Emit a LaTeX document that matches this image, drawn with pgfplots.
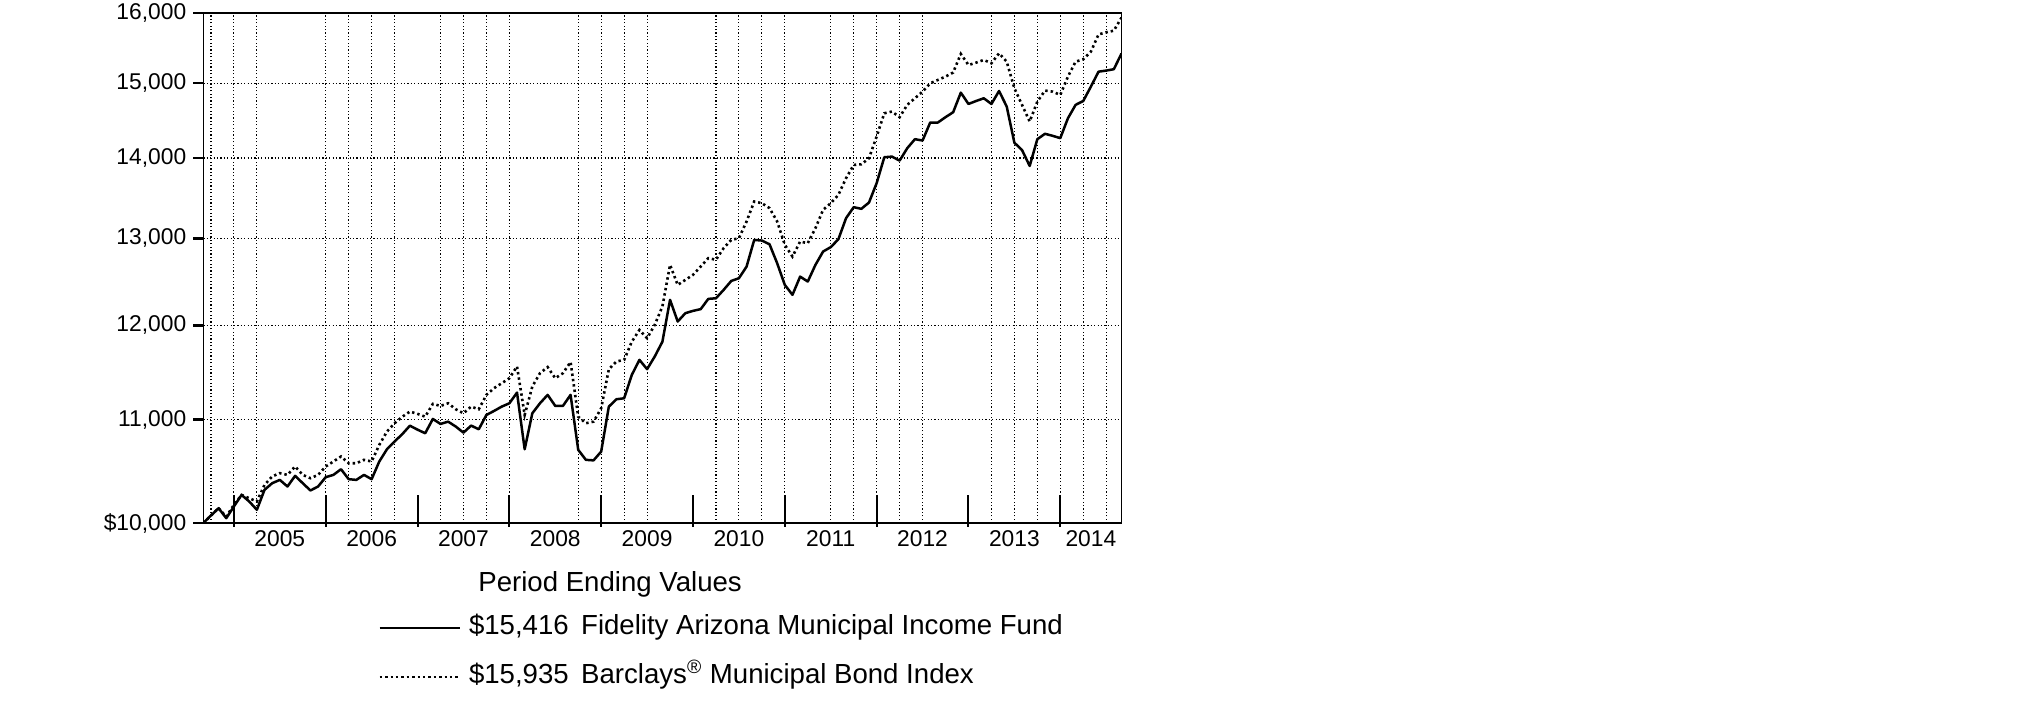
\documentclass[border=0pt]{standalone}
\usepackage{pgfplots}
\usepackage{pgfplotstable}
\pgfplotsset{compat=1.18}
\usepackage{fontspec}
\setmainfont{Liberation Sans}

\pgfplotstableread{
m fund index
0 10000 10000
1 10071 10071
2 10139 10139
3 10046 10060
4 10155 10170
5 10264 10264
6 10202 10233
7 10124 10202
8 10312 10359
9 10375 10440
10 10407 10472
11 10344 10455
12 10446 10536
13 10375 10455
14 10306 10423
15 10344 10455
16 10433 10536
17 10455 10585
18 10510 10634
19 10414 10568
20 10407 10568
21 10455 10601
22 10414 10585
23 10585 10748
24 10705 10881
25 10782 10965
26 10855 11030
27 10940 11083
28 10900 11060
29 10864 11031
30 11008 11162
31 10958 11141
32 10981 11168
33 10931 11107
34 10870 11066
35 10941 11134
36 10904 11107
37 11049 11255
38 11090 11325
39 11134 11376
40 11168 11429
41 11279 11554
42 10705 11049
43 11066 11342
44 11168 11482
45 11255 11547
46 11141 11429
47 11141 11482
48 11255 11601
49 10699 11031
50 10601 10965
51 10596 10981
52 10682 11117
53 11134 11525
54 11210 11607
55 11220 11624
56 11464 11820
57 11624 11949
58 11525 11858
59 11660 12005
60 11820 12210
61 12285 12687
62 12042 12455
63 12135 12513
64 12161 12571
65 12180 12667
66 12296 12766
67 12303 12747
68 12398 12884
69 12501 12983
70 12532 13003
71 12667 13205
72 12983 13450
73 12975 13429
74 12931 13368
75 12706 13205
76 12455 12923
77 12342 12785
78 12551 12963
79 12494 12943
80 12687 13124
81 12844 13347
82 12896 13429
83 12991 13533
84 13245 13742
85 13380 13912
86 13360 13920
87 13438 13997
88 13680 14281
89 14010 14590
90 14019 14613
91 13967 14537
92 14127 14703
93 14245 14793
94 14228 14884
95 14466 14999
96 14466 15045
97 14537 15092
98 14604 15148
99 14870 15410
100 14716 15254
101 14756 15287
102 14793 15325
103 14716 15278
104 14893 15419
105 14680 15300
106 14199 14930
107 14104 14703
108 13899 14479
109 14245 14747
110 14316 14898
111 14290 14884
112 14259 14839
113 14523 15092
114 14703 15300
115 14756 15334
116 14953 15443
117 15160 15690
118 15175 15720
119 15195 15745
120 15416 15935
}\data

\begin{document}
\begin{tikzpicture}[x=1pt,y=1pt]
\path[use as bounding box] (0,0) rectangle (1012.5,358.5);
\begin{axis}[
  at={(101.65pt,96.85pt)}, anchor=south west,
  scale only axis, width=459.1pt, height=255pt,
  xmin=0, xmax=120,
  ymode=log, ymin=10000, ymax=16000,
  ytick={10000,11000,12000,13000,14000,15000,16000},
  yticklabels={{\$10,000},{11,000},{12,000},{13,000},{14,000},{15,000},{16,000}},
  yminorticks=false,
  xtick={10,22,34,46,58,70,82,94,106,116},
  xticklabels={2005,2006,2007,2008,2009,2010,2011,2012,2013,2014},
  extra x ticks={1,4,7,16,19,22,25,31,34,37,40,49,52,55,58,67,70,73,76,82,85,88,91,94,103,106,109,112,115,118},
  extra x tick labels={},
  extra x tick style={xmajorgrids=true},
  xmajorgrids=false,
  ymajorgrids=true,
  grid style={black, line width=0.55pt, dash pattern=on 0.6pt off 1.1pt},
  major x tick style={draw=none},
  minor xtick={4,16,28,40,52,64,76,88,100,112},
  minor tick length=15.8pt,
  minor x tick style={draw=black, line width=1pt, yshift=-1.7pt},
  xtick align=inside,
  ytick align=outside,
  major tick length=5pt,
  major y tick style={line width=1.3pt, black},
  xtick pos=bottom, ytick pos=left,
  axis line style={line width=0.7pt},
  tick label style={font=\fontsize{11.4}{13.5}\selectfont},
  /pgf/number format/assume math mode=true,
  legend style={draw=none, fill=none, at={(0.19026,-0.179)}, anchor=north west,
    font=\fontsize{13.8}{16}\selectfont, inner sep=0pt, row sep=11.5pt,
    nodes={inner sep=0pt, text height=10pt, text depth=3pt},
    /tikz/every odd column/.style={column sep=4pt}},
  legend cell align=left,
  legend image code/.code={\draw[#1] (0pt,0pt) -- (40pt,0pt);},
]
\addplot[black, line width=1.25pt, line join=round] table[x=m,y=fund] {\data};
\addlegendentry{\$15,416\hspace{0.45em}Fidelity Arizona Municipal Income Fund}
\addplot[black, line width=1.3pt, dash pattern=on 1.2pt off 1.5pt] table[x=m,y=index] {\data};
\addlegendentry{\$15,935\hspace{0.45em}Barclays\textsuperscript{\textregistered} Municipal Bond Index}
\end{axis}
\node[anchor=west, font=\fontsize{13.8}{16}\selectfont, inner sep=0pt] at (239,66.5) {Period Ending Values};
\end{tikzpicture}
\end{document}
